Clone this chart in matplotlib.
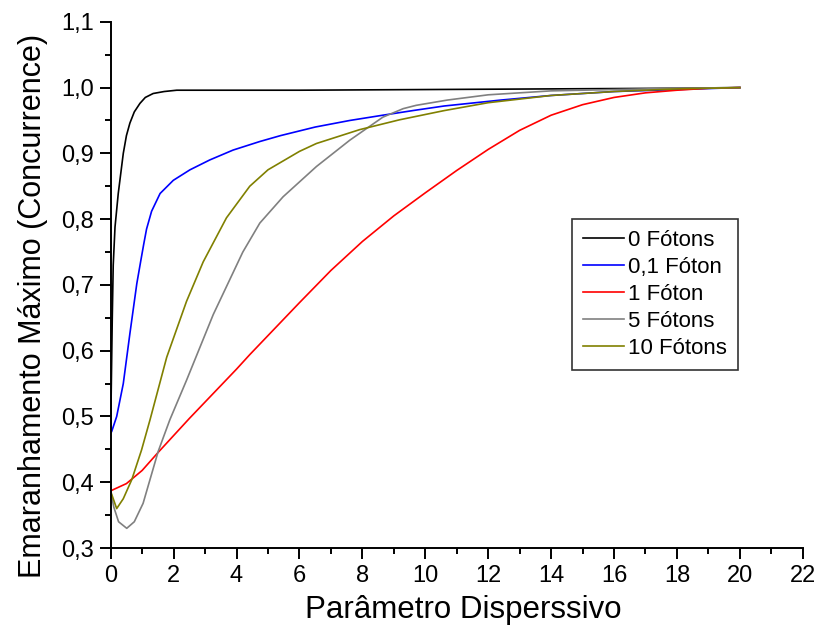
import matplotlib
matplotlib.use("Agg")
import matplotlib.pyplot as plt
from matplotlib.ticker import MultipleLocator, FuncFormatter

# Concurrence vs dispersive parameter, one curve per photon number
x_zero = [0, 0.02, 0.05, 0.08, 0.137, 0.24, 0.4, 0.5, 0.61, 0.75, 0.93, 1.1, 1.35, 1.7, 2.1, 3, 6, 10, 14, 18, 20]
y_zero = [0.48, 0.55, 0.65, 0.73, 0.788, 0.839, 0.900, 0.927, 0.946, 0.963, 0.976, 0.985, 0.991, 0.994, 0.996, 0.996, 0.996, 0.997, 0.998, 0.999, 1.0]

x_01 = [0, 0.03, 0.19, 0.4, 0.61, 0.83, 0.95, 1.05, 1.14, 1.3, 1.57, 1.99, 2.52, 3.15, 3.89, 4.74, 5.4, 6.5, 7.6, 8.65, 9.6, 10.6, 12.4, 14, 16, 18, 20]
y_01 = [0.475, 0.477, 0.50, 0.55, 0.626, 0.702, 0.735, 0.762, 0.785, 0.812, 0.839, 0.859, 0.875, 0.890, 0.905, 0.918, 0.927, 0.940, 0.950, 0.958, 0.965, 0.972, 0.981, 0.988, 0.994, 0.997, 1.0]

x_1 = [0, 0.5, 1.0, 1.5, 2.0, 2.5, 3.0, 3.5, 4.0, 4.42, 5, 6, 7, 8, 9, 10, 11, 12, 13, 14, 15, 16, 17, 18, 19, 20]
y_1 = [0.387, 0.398, 0.418, 0.445, 0.471, 0.497, 0.522, 0.547, 0.572, 0.594, 0.623, 0.673, 0.722, 0.766, 0.805, 0.840, 0.874, 0.906, 0.935, 0.958, 0.974, 0.985, 0.992, 0.996, 0.999, 1.0]

x_5 = [0, 0.1, 0.25, 0.51, 0.75, 1.03, 1.51, 1.88, 2.41, 3.26, 4.2, 4.74, 5.48, 6.54, 7.6, 8.65, 9.0, 9.3, 9.71, 10.7, 12, 14, 16, 18, 20]
y_5 = [0.386, 0.362, 0.340, 0.330, 0.340, 0.368, 0.447, 0.495, 0.555, 0.655, 0.750, 0.794, 0.834, 0.880, 0.920, 0.955, 0.962, 0.968, 0.973, 0.981, 0.989, 0.995, 0.997, 0.999, 1.0]

x_10 = [0, 0.19, 0.4, 0.67, 0.98, 1.25, 1.78, 2.41, 2.94, 3.68, 4.42, 5.0, 6.0, 6.54, 7.91, 9.18, 10.6, 12, 14, 16, 18, 20]
y_10 = [0.386, 0.360, 0.375, 0.404, 0.449, 0.495, 0.590, 0.675, 0.735, 0.802, 0.850, 0.875, 0.903, 0.915, 0.936, 0.951, 0.965, 0.977, 0.988, 0.994, 0.998, 1.0]

labels = ['0 Fótons', '0,1 Fóton', '1 Fóton', '5 Fótons', '10 Fótons']
colors = ['#000000', '#0000ff', '#ff0000', '#808080', '#808000']
series = [(x_zero, y_zero), (x_01, y_01), (x_1, y_1), (x_5, y_5), (x_10, y_10)]

plt.rcParams['font.family'] = ['Liberation Sans', 'DejaVu Sans']

fig = plt.figure(figsize=(8.2, 6.41), dpi=100)
ax = fig.add_axes([0.135, 0.145, 0.844, 0.821])

for (xs, ys), lab, c in zip(series, labels, colors):
    ax.plot(xs, ys, color=c, lw=1.2, label=lab)

ax.set_xlim(0, 22)
ax.set_ylim(0.3, 1.1)
ax.xaxis.set_major_locator(MultipleLocator(2))
ax.xaxis.set_minor_locator(MultipleLocator(1))
ax.yaxis.set_major_locator(MultipleLocator(0.1))
ax.yaxis.set_minor_locator(MultipleLocator(0.05))
ax.yaxis.set_major_formatter(FuncFormatter(lambda v, p: f"{v:.1f}".replace('.', ',')))

for side in ['top', 'right']:
    ax.spines[side].set_visible(False)
for side in ['left', 'bottom']:
    ax.spines[side].set_linewidth(1.4)

ax.tick_params(which='major', direction='out', length=8, width=1.4, labelsize=17, pad=4)
ax.tick_params(which='minor', direction='out', length=4, width=1.4)

ax.set_xlabel('Parâmetro Disperssivo', fontsize=22.5)
ax.set_ylabel('Emaranhamento Máximo (Concurrence)', fontsize=22)
ax.xaxis.set_label_coords(0.51, -0.09, transform=ax.transAxes)
ax.yaxis.set_label_coords(-0.09, 0.46, transform=ax.transAxes)

leg = ax.legend(loc='upper left', bbox_to_anchor=(0.697, 0.659), bbox_transform=fig.transFigure,
                fontsize=16, frameon=True, fancybox=False, edgecolor='black',
                handlelength=1.85, handletextpad=0.2, labelspacing=0.27, borderpad=0.5,
                borderaxespad=0)
leg.get_frame().set_linewidth(1.2)

fig.savefig('out.png', dpi=100)
